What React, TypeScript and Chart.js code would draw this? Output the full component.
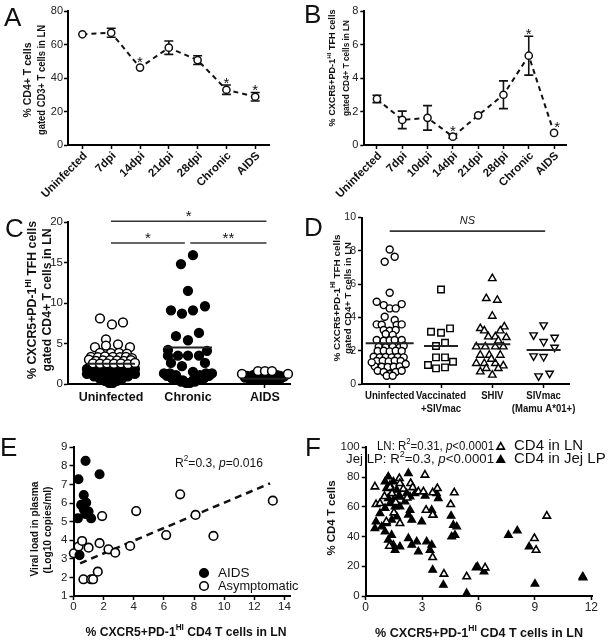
import React, { useEffect, useRef } from 'react';
import { Chart, registerables } from 'chart.js';

Chart.register(...registerables);

const FONT = '"Liberation Sans", Arial, Helvetica, sans-serif';
const PAGE_W = 611;
const PAGE_H = 640;
const Y_W = 40;
const X_H = 40;

// ---------------- Panel A ----------------
const A_CATS = ['Uninfected', '7dpi', '14dpi', '21dpi', '28dpi', 'Chronic', 'AIDS'];
const A_MEAN = [66.1, 67.0, 46.2, 58.1, 50.7, 33.0, 28.8];
const A_SEM = [0, 2.7, 0, 4.0, 2.6, 2.8, 2.5];
const A_SIG = [false, false, true, false, false, true, true];
const A_YTICKS = [0, 20, 40, 60, 80];

// ---------------- Panel B ----------------
const B_CATS = ['Uninfected', '7dpi', '10dpi', '14dpi', '21dpi', '28dpi', 'Chronic', 'AIDS'];
const B_MEAN = [2.75, 1.5, 1.62, 0.5, 1.77, 3.0, 5.33, 0.72];
const B_SEM = [0.22, 0.52, 0.73, 0.1, 0, 0.83, 1.16, 0];
const B_SIG = [false, false, false, true, false, false, true, true];
const B_YTICKS = [0, 2, 4, 6, 8];

// ---------------- Panel C ----------------  [jitter, value]
const C_CATS = ['Uninfected', 'Chronic', 'AIDS'];
const C_YTICKS = [0, 5, 10, 15, 20];
const C_UNINF_OPEN = [
  [-11, 8.1], [1, 7.35], [12, 7.6], [-5, 5.5], [-16, 4.55], [-5, 4.75], [7, 4.9], [19, 4.55],
  [-11, 3.85], [0, 3.8], [8, 3.85], [16, 3.75], [-20, 3.35], [-13, 3.3], [-6, 3.4], [2, 3.35],
  [9, 3.3], [15, 3.35], [21, 3.2], [-22, 3.0], [-15, 2.85], [-8, 2.9], [-1, 2.95], [6, 2.9],
  [13, 2.85], [20, 2.95], [-18, 2.55], [-11, 2.5], [-4, 2.55], [3, 2.5], [10, 2.55], [17, 2.45], [24, 2.6],
];
const C_UNINF_DENSE = [
  [-21, 2.15], [-14, 2.15], [-7, 2.15], [0, 2.15], [7, 2.15], [14, 2.15], [21, 2.15],
  [-24, 1.85], [-17, 1.85], [-10, 1.85], [-3, 1.85], [4, 1.85], [11, 1.85], [18, 1.85], [24, 1.85],
  [-22, 1.55], [-15, 1.55], [-8, 1.55], [-1, 1.55], [6, 1.55], [13, 1.55], [20, 1.55],
  [-24, 1.25], [-17, 1.25], [-10, 1.25], [-3, 1.25], [4, 1.25], [11, 1.25], [18, 1.25], [24, 1.25],
  [-17, 0.95], [-10, 0.95], [-3, 0.95], [4, 0.95], [11, 0.95], [17, 0.95],
  [-11, 0.65], [-4, 0.65], [4, 0.65], [11, 0.65], [-6, 0.4], [0, 0.4], [6, 0.4], [-2, 0.15], [2, 0.15],
];
const C_CHRONIC = [
  [5, 15.9], [-7, 14.8], [0, 11.5], [-17, 9.1], [-6, 8.7], [5, 9.1], [17, 9.6], [-12, 5.9], [0, 5.4],
  [11, 6.3], [-20, 4.2], [19, 4.1], [-20, 3.5], [-10, 3.5], [0, 3.5], [11, 3.5], [-17, 2.6], [17, 2.6],
  [-6, 2.2], [5, 1.5], [-24, 1.3], [-18, 1.3], [18, 1.3], [24, 1.3], [-21, 1.0], [-14, 0.9], [14, 0.9],
  [21, 1.0], [-10, 0.6], [-5, 0.45], [5, 0.45], [10, 0.6], [-16, 0.7], [16, 0.7], [-2, 0.15], [2, 0.15],
  [-7, 0.3], [7, 0.3], [-12, 1.1], [12, 1.1],
];
const C_AIDS_OPEN = [[-23, 1.25], [-7, 1.6], [0, 1.6], [7, 1.6], [23, 1.25]];
const C_AIDS_DENSE = [
  [-18, 1.0], [-12, 0.9], [-5, 0.85], [2, 0.85], [9, 0.9], [15, 1.0], [19, 0.9], [-20, 0.8],
  [-15, 0.6], [-9, 0.55], [-3, 0.5], [3, 0.5], [9, 0.55], [15, 0.6], [-12, 1.1], [12, 1.1], [-1, 1.05],
];
const C_MEANS = [2.5, 4.5, 0.65];
const C_SIGS = [
  { from: 0, to: 2.02, level: 20.1, label: '*' },
  { from: 0, to: 0.96, level: 17.4, label: '*' },
  { from: 1.03, to: 2.02, level: 17.4, label: '**' },
];

// ---------------- Panel D ----------------
const D_CATS = [['Uninfected'], ['Vaccinated', '+SIVmac'], ['SHIV'], ['SIVmac', '(Mamu A*01+)']];
const D_YTICKS = [0, 2, 4, 6, 8, 10];
const D_UNINF = [
  [0, 8.08], [-5, 7.34], [5, 7.64], [0, 5.48], [-13, 4.94], [-6, 4.74], [0, 4.54], [6, 4.54], [12, 4.8],
  [-5, 4.04], [5, 3.84], [-13, 3.58], [-8, 3.56], [7, 3.54], [12, 3.58], [-6, 3.24], [0, 3.2], [6, 3.24],
  [-4, 3.0], [3, 2.95], [-13, 2.64], [-6, 2.6], [0, 2.62], [5, 2.64], [12, 2.64], [-11, 2.24], [-4, 2.2],
  [3, 2.24], [10, 2.2], [14, 2.3], [-12, 1.98], [-6, 2.0], [0, 1.96], [6, 2.0], [12, 1.98], [-16, 1.64],
  [-10, 1.6], [-4, 1.62], [2, 1.6], [8, 1.62], [14, 1.6], [-13, 1.38], [-7, 1.4], [-1, 1.36], [5, 1.4],
  [11, 1.38], [-15, 1.06], [-8, 1.04], [-2, 1.02], [4, 1.04], [10, 1.06], [-12, 0.8], [-6, 0.72], [0, 0.6],
  [6, 0.72], [12, 0.8], [-3, 0.5], [3, 0.5], [16, 1.2], [-18, 1.3],
];
const D_VACC = [
  [0, 5.68], [-10, 3.14], [0, 3.08], [9, 3.34], [4, 2.48], [-5, 2.28], [-5, 1.6], [4, 1.6],
  [-13, 1.14], [12, 1.34], [-5, 0.94], [4, 1.0],
];
const D_SHIV = [
  [0, 6.34], [-6, 5.14], [5, 5.04], [0, 4.08], [-12, 3.34], [-8, 3.2], [12, 3.44], [8, 3.2], [-4, 2.84],
  [3, 2.84], [-16, 2.24], [-7, 2.24], [3, 2.24], [11, 2.24], [-12, 1.74], [-3, 1.74], [8, 1.74], [-16, 1.24],
  [-8, 1.24], [3, 1.24], [11, 1.1], [-12, 0.74], [0, 0.54], [-6, 0.94], [6, 0.94], [14, 2.8], [-1, 1.5], [6, 2.6],
];
const D_SIV = [[0, 3.54], [-10, 2.94], [11, 2.8], [0, 2.54], [11, 2.2], [-10, 1.68], [0, 1.64], [-5, 0.48], [6, 0.64]];
const D_MEANS = [2.45, 2.28, 2.38, 2.04];
const D_NS = { from: 0, to: 3.03, level: 9.18, label: 'NS' };

// ---------------- Panel E ----------------
const E_XTICKS = [0, 2, 4, 6, 8, 10, 12, 14];
const E_YTICKS = [1, 2, 3, 4, 5, 6, 7, 8, 9];
const E_AIDS = [
  [0.33, 7.28], [0.8, 8.27], [1.73, 7.55], [0.68, 6.43], [0.51, 5.9], [0.84, 6.02], [0.68, 5.67],
  [1.0, 5.54], [0.29, 5.18], [1.17, 5.18], [0.78, 5.41], [0.4, 3.2],
];
const E_ASYM = [
  [0.02, 3.3], [0.33, 3.66], [0.57, 3.96], [1.0, 3.6], [1.73, 3.84], [1.9, 5.3], [2.32, 3.51], [2.77, 3.33],
  [3.76, 3.69], [4.16, 5.57], [6.15, 4.28], [7.08, 6.47], [8.1, 5.36], [9.29, 4.23], [13.23, 6.13],
  [0.66, 1.9], [1.17, 1.9], [1.3, 1.9], [1.61, 2.31],
];
const E_REG_X = [0.44, 13.05];
const E_SLOPE = 0.341;
const E_INTERCEPT = 2.61;

// ---------------- Panel F ----------------
const F_XTICKS = [0, 3, 6, 9, 12];
const F_YTICKS = [0, 20, 40, 60, 80, 100];
const F_LN = [
  [0.49, 73.5], [0.55, 61.6], [0.76, 62.3], [1.79, 79.1], [1.82, 75.8], [2.39, 75.8], [3.15, 81.4],
  [2.8, 70.2], [3.07, 70.2], [3.56, 69.5], [3.81, 72.4], [4.71, 69.5], [4.52, 61.6], [3.21, 57.8],
  [3.56, 54.5], [1.26, 33.6], [3.56, 26.0], [4.16, 14.8], [5.37, 13.0], [1.82, 48.9], [9.63, 53.8],
  [8.97, 38.8], [9.06, 30.9], [6.35, 19.0], [1.3, 73], [1.6, 63], [1.0, 67], [2.0, 72], [1.5, 56],
  [1.1, 50], [2.5, 73], [1.4, 69], [2.2, 66],
];
const F_JEJ = [
  [2.27, 82.5], [1.2, 80.3], [1.03, 76.9], [1.29, 74.6], [1.47, 76.9], [1.11, 72.4], [1.38, 69.0],
  [1.65, 71.3], [1.2, 65.7], [1.47, 64.6], [1.74, 66.8], [1.29, 62.3], [1.03, 59.0], [1.56, 60.1],
  [1.82, 60.1], [0.76, 55.6], [0.55, 50.0], [0.49, 45.5], [0.85, 46.6], [1.11, 48.9], [1.38, 51.1],
  [1.65, 53.4], [1.03, 43.3], [1.38, 41.0], [1.2, 37.7], [1.47, 34.3], [1.82, 33.2], [1.56, 30.9],
  [2.27, 38.8], [2.45, 34.3], [2.71, 36.5], [2.8, 29.8], [3.24, 36.5], [3.51, 34.3], [3.42, 30.9],
  [3.56, 17.5], [4.13, 7.4], [4.57, 39.9], [4.75, 41.0], [4.84, 46.6], [4.66, 47.7], [2.36, 57.8],
  [2.27, 54.5], [2.45, 51.1], [2.98, 50.0], [3.51, 57.8], [3.6, 54.5], [3.77, 69.0], [3.86, 65.7],
  [2.09, 63.4], [2.18, 69.0], [2.62, 69.0], [2.36, 66.8], [1.82, 66.8], [7.59, 41.0], [8.06, 43.9],
  [8.69, 33.2], [5.94, 19.7], [5.87, 19.0], [6.29, 16.4], [9.0, 8.1], [11.54, 13.0], [11.56, 12.3],
  [5.37, 1.8], [4.54, 53.8], [3.16, 67.3],
];

// ---------------- text helpers ----------------
type Seg = { t: string; sup?: boolean; it?: boolean };
type TextItem = {
  x: number; y: number; segs: string | Seg[]; size: number; bold?: boolean; italic?: boolean;
  rot?: number; align?: 'left' | 'center' | 'right'; w?: number; sx?: number; color?: string;
};

function drawText(ctx: CanvasRenderingContext2D, item: TextItem) {
  const segs: Seg[] = typeof item.segs === 'string' ? [{ t: item.segs }] : item.segs;
  const fontFor = (s: Seg) =>
    `${s.it || item.italic ? 'italic ' : ''}${item.bold ? 'bold ' : ''}${s.sup ? item.size * 0.68 : item.size}px ${FONT}`;
  const widths: number[] = [];
  let total = 0;
  for (const s of segs) {
    ctx.font = fontFor(s);
    const w = ctx.measureText(s.t).width;
    widths.push(w);
    total += w;
  }
  const sx = item.w ? item.w / total : item.sx || 1;
  ctx.save();
  ctx.translate(item.x, item.y);
  if (item.rot) ctx.rotate((item.rot * Math.PI) / 180);
  ctx.scale(sx, 1);
  const align = item.align || 'center';
  let x0 = align === 'center' ? -total / 2 : align === 'right' ? -total : 0;
  ctx.textAlign = 'left';
  ctx.textBaseline = 'middle';
  ctx.fillStyle = item.color || '#111';
  segs.forEach((s, i) => {
    ctx.font = fontFor(s);
    ctx.fillText(s.t, x0, s.sup ? -item.size * 0.36 : 0);
    x0 += widths[i];
  });
  ctx.restore();
}

function textPlugin(items: TextItem[]) {
  return {
    id: 'txt',
    afterDraw(chart: any) {
      items.forEach((it) => drawText(chart.ctx, it));
    },
  };
}

// rotated category labels (A, B)
function rotLabels(labels: string[], size: number) {
  return {
    id: 'rlab',
    afterDraw(chart: any) {
      const xs = chart.scales.x;
      labels.forEach((lab, i) => {
        drawText(chart.ctx, { x: xs.getPixelForValue(i) + 3, y: xs.top + 9, segs: lab, size, bold: true, rot: -45, align: 'right' });
      });
    },
  };
}

// stacked group labels (D)
function groupLabels(labels: string[][], size: number, sx: number, dy: number, lh: number) {
  return {
    id: 'glab',
    afterDraw(chart: any) {
      const xs = chart.scales.x;
      labels.forEach((lines, i) => {
        lines.forEach((ln, j) => {
          drawText(chart.ctx, { x: xs.getPixelForValue(i), y: xs.top + dy + j * lh, segs: ln, size, bold: true, sx });
        });
      });
    },
  };
}

const TFH_LINE: Seg[] = [{ t: '% CXCR5+PD-1' }, { t: 'HI', sup: true }, { t: ' TFH cells' }];
const XT_LINE: Seg[] = [{ t: '% CXCR5+PD-1' }, { t: 'HI', sup: true }, { t: ' CD4 T cells in LN' }];

const A_TEXT: TextItem[] = [
  { x: 4, y: 19, segs: 'A', size: 26, align: 'left' },
  { x: 28, y: 80, segs: '% CD4+ T cells', size: 10, bold: true, rot: -90, w: 75 },
  { x: 42, y: 80, segs: 'gated CD3+ T cells in LN', size: 10, bold: true, rot: -90, w: 110 },
];
const B_TEXT: TextItem[] = [
  { x: 304, y: 16, segs: 'B', size: 26, align: 'left' },
  { x: 333, y: 68, segs: TFH_LINE, size: 9, bold: true, rot: -90, w: 117 },
  { x: 347, y: 68, segs: 'gated CD4+ T cells in LN', size: 9, bold: true, rot: -90, w: 96 },
];
const C_TEXT: TextItem[] = [
  { x: 5, y: 230, segs: 'C', size: 26, align: 'left' },
  { x: 33, y: 300, segs: TFH_LINE, size: 12, bold: true, rot: -90, w: 158 },
  { x: 48, y: 300, segs: 'gated CD4+ T cells in LN', size: 12, bold: true, rot: -90, w: 143 },
];
const D_TEXT: TextItem[] = [
  { x: 304, y: 229, segs: 'D', size: 26, align: 'left' },
  { x: 337, y: 298, segs: TFH_LINE, size: 9.5, bold: true, rot: -90, w: 127 },
  { x: 348, y: 298, segs: 'gated CD4+ T cells in LN', size: 9.5, bold: true, rot: -90, w: 112 },
];
const E_TEXT: TextItem[] = [
  { x: 0, y: 449, segs: 'E', size: 26, align: 'left' },
  { x: 35, y: 529, segs: 'Viral load in plasma', size: 10.5, bold: true, rot: -90, w: 95 },
  { x: 48, y: 530, segs: '(Log10 copies/ml)', size: 10.5, bold: true, rot: -90, w: 87 },
  { x: 175, y: 463, segs: [{ t: 'R' }, { t: '2', sup: true }, { t: '=0.3, ' }, { t: 'p', it: true }, { t: '=0.016' }], size: 13, align: 'left', w: 88 },
  { x: 218, y: 573, segs: 'AIDS', size: 13.5, align: 'left' },
  { x: 218, y: 586, segs: 'Asymptomatic', size: 13.5, align: 'left', sx: 0.95 },
  { x: 186, y: 632, segs: XT_LINE, size: 13, bold: true, w: 201 },
];
const F_TEXT: TextItem[] = [
  { x: 305, y: 449, segs: 'F', size: 26, align: 'left' },
  { x: 332, y: 518, segs: '% CD4 T cells', size: 11, bold: true, rot: -90, w: 75 },
  { x: 494, y: 446, segs: [{ t: 'LN: R' }, { t: '2', sup: true }, { t: '=0.31, ' }, { t: 'p', it: true }, { t: '<0.0001' }], size: 13, align: 'right', w: 117 },
  { x: 494, y: 459, segs: [{ t: 'Jej LP: R' }, { t: '2', sup: true }, { t: '=0.3, ' }, { t: 'p', it: true }, { t: '<0.0001' }], size: 13, align: 'right', w: 148 },
  { x: 514, y: 446, segs: 'CD4 in LN', size: 15, align: 'left' },
  { x: 514, y: 459, segs: 'CD4 in Jej LP', size: 15, align: 'left' },
  { x: 479, y: 633, segs: XT_LINE, size: 13, bold: true, w: 208 },
];

// ---------------- chart helpers ----------------
function area(l: number, t: number, r: number, b: number) {
  return { padding: { left: l - Y_W, top: t, right: PAGE_W - r, bottom: PAGE_H - b - X_H } };
}

const BORDER = { display: true, color: '#000', width: 2 };
const GRID = { display: true, drawOnChartArea: false, drawTicks: true, tickLength: 4, tickWidth: 1.5, tickColor: '#000' };

function yAxis(min: number, max: number, ticks: number[], size: number, pad = 1) {
  return {
    type: 'linear', min, max,
    afterBuildTicks: (s: any) => { s.ticks = ticks.map((v) => ({ value: v })); },
    afterFit: (s: any) => { s.width = Y_W; },
    border: BORDER, grid: GRID,
    ticks: { color: '#222', font: { family: FONT, size }, padding: pad, autoSkip: false },
  };
}

function xNumAxis(min: number, max: number, ticks: number[], size: number) {
  return {
    type: 'linear', min, max,
    afterBuildTicks: (s: any) => { s.ticks = ticks.map((v) => ({ value: v })); },
    afterFit: (s: any) => { s.height = X_H; },
    border: BORDER, grid: GRID,
    ticks: { color: '#222', font: { family: FONT, size }, padding: 0, autoSkip: false, maxRotation: 0, minRotation: 0 },
  };
}

function xGroupAxis(min: number, max: number, labels: any[], size: number, pad: number, show: boolean) {
  return {
    type: 'linear', min, max,
    afterBuildTicks: (s: any) => { s.ticks = labels.map((_: any, i: number) => ({ value: i })); },
    afterFit: (s: any) => { s.height = X_H; },
    border: BORDER, grid: GRID,
    ticks: {
      display: show,
      color: '#111', font: { family: FONT, size, weight: 'bold' }, padding: pad, autoSkip: false,
      maxRotation: 0, minRotation: 0, callback: (v: number) => labels[Math.round(v)],
    },
  };
}

function xCatAxis() {
  return {
    type: 'category', offset: true,
    afterFit: (s: any) => { s.height = X_H; },
    border: BORDER, grid: GRID,
    ticks: { display: false, autoSkip: false },
  };
}

const BASE = {
  responsive: false,
  animation: false,
  events: [],
  devicePixelRatio: 1,
  plugins: { legend: { display: false }, tooltip: { enabled: false } },
};

const groupPts = (arr: number[][], cat: number, pxPerCat: number) =>
  arr.map(([o, v]) => ({ x: cat + o / pxPerCat, y: v }));
const xyPts = (arr: number[][]) => arr.map(([x, y]) => ({ x, y }));

const PT_R = 3.6;

function errorPlugin(mean: number[], sem: number[], sig: boolean[], starDx: number[]) {
  return {
    id: 'errbars',
    beforeDatasetsDraw(chart: any) {
      const ctx = chart.ctx, ys = chart.scales.y, pts = chart.getDatasetMeta(0).data;
      ctx.save();
      ctx.strokeStyle = '#111';
      ctx.lineWidth = 1.6;
      mean.forEach((m, i) => {
        if (!sem[i]) return;
        const x = pts[i].x, y1 = ys.getPixelForValue(m + sem[i]), y2 = ys.getPixelForValue(m - sem[i]);
        ctx.beginPath();
        ctx.moveTo(x, y1); ctx.lineTo(x, y2);
        ctx.moveTo(x - 4.5, y1); ctx.lineTo(x + 4.5, y1);
        ctx.moveTo(x - 4.5, y2); ctx.lineTo(x + 4.5, y2);
        ctx.stroke();
      });
      ctx.restore();
    },
    afterDatasetsDraw(chart: any) {
      const ctx = chart.ctx, ys = chart.scales.y, pts = chart.getDatasetMeta(0).data;
      ctx.save();
      ctx.fillStyle = '#111';
      ctx.font = `15px ${FONT}`;
      ctx.textAlign = 'center';
      ctx.textBaseline = 'middle';
      mean.forEach((m, i) => {
        if (!sig[i]) return;
        const top = Math.min(ys.getPixelForValue(m + sem[i]), pts[i].y - PT_R);
        ctx.fillText('*', pts[i].x + starDx[i], top - 5 + 3.5);
      });
      ctx.restore();
    },
  };
}

function groupPlugin(means: number[], half: number[], sigs: any[], italicSig: boolean) {
  return {
    id: 'grp',
    afterDatasetsDraw(chart: any) {
      const { ctx } = chart;
      const xs = chart.scales.x, ys = chart.scales.y;
      ctx.save();
      ctx.strokeStyle = '#222';
      ctx.lineWidth = 2;
      means.forEach((m, i) => {
        const yy = ys.getPixelForValue(m);
        const xx = xs.getPixelForValue(i);
        ctx.beginPath(); ctx.moveTo(xx - half[i], yy); ctx.lineTo(xx + half[i], yy); ctx.stroke();
      });
      ctx.lineWidth = 1.6;
      ctx.strokeStyle = '#333';
      ctx.fillStyle = '#111';
      ctx.textAlign = 'center';
      ctx.textBaseline = 'middle';
      sigs.forEach((s) => {
        const yy = ys.getPixelForValue(s.level);
        const x1 = xs.getPixelForValue(s.from), x2 = xs.getPixelForValue(s.to);
        ctx.beginPath(); ctx.moveTo(x1, yy); ctx.lineTo(x2, yy); ctx.stroke();
        if (italicSig) {
          ctx.font = `italic 11px ${FONT}`;
          ctx.fillText(s.label, (x1 + x2) / 2, yy - 10);
        } else {
          ctx.font = `15px ${FONT}`;
          ctx.fillText(s.label, (x1 + x2) / 2, yy - 8 + 3.5);
        }
      });
      ctx.restore();
    },
  };
}

function tri(ctx: CanvasRenderingContext2D, x: number, y: number, r: number, filled: boolean) {
  ctx.beginPath();
  ctx.moveTo(x, y - r);
  ctx.lineTo(x - r * 0.866, y + r * 0.5);
  ctx.lineTo(x + r * 0.866, y + r * 0.5);
  ctx.closePath();
  ctx.fillStyle = filled ? '#000' : '#fff';
  ctx.fill();
  ctx.lineWidth = 1.6;
  ctx.strokeStyle = '#000';
  ctx.stroke();
}

function circ(ctx: CanvasRenderingContext2D, x: number, y: number, r: number, filled: boolean) {
  ctx.beginPath();
  ctx.arc(x, y, r, 0, Math.PI * 2);
  ctx.fillStyle = filled ? '#000' : '#fff';
  ctx.fill();
  ctx.lineWidth = 1.6;
  ctx.strokeStyle = '#000';
  ctx.stroke();
}

// ---------------- chart configs ----------------
function lineDataset(data: number[]) {
  return {
    data,
    borderColor: '#111',
    borderWidth: 2,
    borderDash: [5, 4],
    pointRadius: PT_R,
    pointBackgroundColor: '#fff',
    pointBorderColor: '#111',
    pointBorderWidth: 1.5,
    tension: 0,
    clip: false,
  };
}

const makeA = () => ({
  type: 'line',
  data: { labels: A_CATS, datasets: [lineDataset(A_MEAN)] },
  options: {
    ...BASE,
    layout: area(68, 11, 269.6, 145),
    scales: { x: xCatAxis(), y: yAxis(0, 80, A_YTICKS, 11, 1) },
  },
  plugins: [errorPlugin(A_MEAN, A_SEM, A_SIG, [0, 0, 0, 0, 0, 0, 0]), rotLabels(A_CATS, 11.5), textPlugin(A_TEXT)],
});

const makeB = () => ({
  type: 'line',
  data: { labels: B_CATS, datasets: [lineDataset(B_MEAN)] },
  options: {
    ...BASE,
    layout: area(364.3, 11, 566.7, 145),
    scales: { x: xCatAxis(), y: yAxis(0, 8, B_YTICKS, 11, 2) },
  },
  plugins: [errorPlugin(B_MEAN, B_SEM, B_SIG, [0, 0, 0, 0, 0, 0, 0, 3]), rotLabels(B_CATS, 11.5), textPlugin(B_TEXT)],
});

const C_PX = 77;
const makeC = () => ({
  type: 'scatter',
  data: {
    datasets: [
      {
        data: [...groupPts(C_UNINF_OPEN, 0, C_PX), ...groupPts(C_AIDS_OPEN, 2, C_PX)],
        pointRadius: 4.4, pointBackgroundColor: '#fff', pointBorderColor: '#000', pointBorderWidth: 1.5, order: 1, clip: false,
      },
      {
        data: [...groupPts(C_UNINF_DENSE, 0, C_PX), ...groupPts(C_CHRONIC, 1, C_PX), ...groupPts(C_AIDS_DENSE, 2, C_PX)],
        pointRadius: 4.4, pointBackgroundColor: '#000', pointBorderColor: '#000', pointBorderWidth: 1.5, order: 2, clip: false,
      },
    ],
  },
  options: {
    ...BASE,
    layout: area(68, 222, 290, 384),
    scales: { x: xGroupAxis(-0.558, 2.325, C_CATS, 12.5, 2.5, true), y: yAxis(0, 20, C_YTICKS, 11.5, 1) },
  },
  plugins: [groupPlugin(C_MEANS, [24, 24, 23], C_SIGS, false), textPlugin(C_TEXT)],
});

const D_PX = 51.3;
const dStyle = { pointBackgroundColor: '#fff', pointBorderColor: '#000', pointBorderWidth: 1.4, clip: false };
const makeD = () => ({
  type: 'scatter',
  data: {
    datasets: [
      { data: groupPts(D_UNINF, 0, D_PX), pointRadius: 3.5, pointStyle: 'circle', ...dStyle },
      { data: groupPts(D_VACC, 1, D_PX), pointRadius: 4.6, pointStyle: 'rect', ...dStyle },
      { data: groupPts(D_SHIV, 2, D_PX), pointRadius: 4.3, pointStyle: 'triangle', ...dStyle },
      { data: groupPts(D_SIV, 3, D_PX), pointRadius: 4.3, pointStyle: 'triangle', pointRotation: 180, ...dStyle },
    ],
  },
  options: {
    ...BASE,
    layout: area(362, 217.5, 569, 384),
    scales: { x: xGroupAxis(-0.54, 3.495, D_CATS, 10, 2, false), y: yAxis(0, 10, D_YTICKS, 10.5, 2) },
  },
  plugins: [groupPlugin(D_MEANS, [24, 17, 18, 17], [D_NS], true), groupLabels(D_CATS, 11, 0.87, 12, 12.5), textPlugin(D_TEXT)],
});

const eLegend = {
  id: 'eleg',
  afterDraw(chart: any) {
    circ(chart.ctx, 204, 573, 4.3, true);
    circ(chart.ctx, 204, 586, 4.3, false);
  },
};

const makeE = () => ({
  type: 'scatter',
  data: {
    datasets: [
      {
        data: E_REG_X.map((x) => ({ x, y: E_INTERCEPT + E_SLOPE * x })),
        showLine: true, borderColor: '#111', borderWidth: 2.5, borderDash: [7, 5], pointRadius: 0, order: 3,
      },
      {
        data: xyPts(E_AIDS), pointRadius: 4.3, pointBackgroundColor: '#000', pointBorderColor: '#000',
        pointBorderWidth: 1.5, order: 1, clip: false,
      },
      {
        data: xyPts(E_ASYM), pointRadius: 4.3, pointBackgroundColor: '#fff', pointBorderColor: '#000',
        pointBorderWidth: 1.6, order: 2, clip: false,
      },
    ],
  },
  options: {
    ...BASE,
    layout: area(73.5, 447.3, 290, 596),
    scales: { x: xNumAxis(0, 14.37, E_XTICKS, 11.5), y: yAxis(1, 9, E_YTICKS, 11.5, 2) },
  },
  plugins: [eLegend, textPlugin(E_TEXT)],
});

const fLegend = {
  id: 'fleg',
  afterDraw(chart: any) {
    tri(chart.ctx, 500.7, 447, 4.3, false);
    tri(chart.ctx, 500.7, 460, 4.3, true);
  },
};

const makeF = () => ({
  type: 'scatter',
  data: {
    datasets: [
      {
        data: xyPts(F_LN), pointStyle: 'triangle', pointRadius: 4.3, pointBackgroundColor: '#fff',
        pointBorderColor: '#000', pointBorderWidth: 1.6, order: 1, clip: false,
      },
      {
        data: xyPts(F_JEJ), pointStyle: 'triangle', pointRadius: 4.3, pointBackgroundColor: '#000',
        pointBorderColor: '#000', pointBorderWidth: 1.4, order: 2, clip: false,
      },
    ],
  },
  options: {
    ...BASE,
    layout: area(365.7, 447.3, 592.3, 596),
    scales: { x: xNumAxis(0, 12.05, F_XTICKS, 12), y: yAxis(0, 100, F_YTICKS, 11.5, 2) },
  },
  plugins: [fLegend, textPlugin(F_TEXT)],
});

function Panel({ make }: { make: () => any }) {
  const ref = useRef<HTMLCanvasElement>(null);
  useEffect(() => {
    const chart = new Chart(ref.current as HTMLCanvasElement, make());
    return () => chart.destroy();
  }, [make]);
  return (
    <canvas
      ref={ref}
      width={PAGE_W}
      height={PAGE_H}
      style={{ position: 'absolute', left: 0, top: 0, width: PAGE_W, height: PAGE_H }}
    />
  );
}

const MAKERS = [makeA, makeB, makeC, makeD, makeE, makeF];

export default function App() {
  return (
    <div style={{ position: 'absolute', left: 0, top: 0, width: PAGE_W, height: PAGE_H, background: '#fff', overflow: 'hidden' }}>
      {MAKERS.map((m, i) => (
        <Panel key={i} make={m} />
      ))}
    </div>
  );
}
